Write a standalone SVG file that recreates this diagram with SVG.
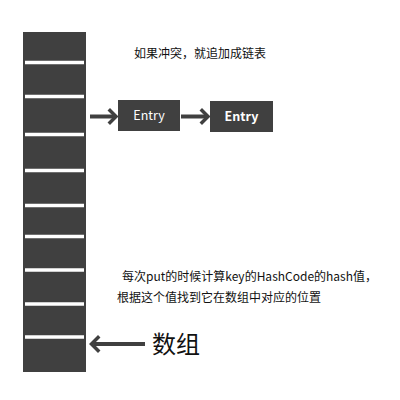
<svg xmlns="http://www.w3.org/2000/svg" width="400" height="400" viewBox="0 0 400 400">
<defs>
<style>
.box{fill:#404040}
.sep{stroke:#ffffff;stroke-width:3.5}
.t{font-family:"Noto Sans CJK SC","Noto Sans",sans-serif;fill:#111}
.et{font-family:"Noto Sans CJK SC","Noto Sans",sans-serif;fill:#fff;font-size:12.5px;text-anchor:middle}
.ln{stroke:#404040;stroke-width:4;fill:none}
.hd{stroke:#404040;stroke-width:3.5;fill:none;stroke-linecap:square}
</style>
</defs>
<rect width="400" height="400" fill="#fff"/>
<g id="array">
<rect class="box" x="23" y="32" width="63" height="340"/>
<line class="sep" x1="25" y1="62.5" x2="84" y2="62.5"/>
<line class="sep" x1="25" y1="96.5" x2="84" y2="96.5"/>
<line class="sep" x1="25" y1="134.5" x2="84" y2="134.5"/>
<line class="sep" x1="25" y1="170.5" x2="84" y2="170.5"/>
<line class="sep" x1="25" y1="205.5" x2="84" y2="205.5"/>
<line class="sep" x1="25" y1="236.5" x2="84" y2="236.5"/>
<line class="sep" x1="25" y1="270" x2="84" y2="270"/>
<line class="sep" x1="25" y1="304" x2="84" y2="304"/>
<line class="sep" x1="25" y1="337" x2="84" y2="337"/>
</g>
<g id="entry1">
<rect class="box" x="118" y="100" width="62" height="31"/>
<text class="et" x="149" y="120">Entry</text>
</g>
<g id="entry2">
<rect class="box" x="210" y="101" width="63" height="31"/>
<text class="et" x="241.5" y="121" font-weight="bold">Entry</text>
</g>
<g id="connectors">
<line class="ln" x1="90" y1="116.5" x2="114" y2="116.5"/>
<polyline class="hd" points="110,110.5 116,116.5 110,122.5"/>
<line class="ln" x1="181" y1="116.5" x2="206" y2="116.5"/>
<polyline class="hd" points="202,110.5 208,116.5 202,122.5"/>
<line class="ln" x1="94" y1="344" x2="145" y2="344"/>
<polyline class="hd" points="98,337.5 91.5,344 98,350.5"/>
</g>
<text class="t" x="134" y="58" font-size="12">如果冲突，就追加成链表</text>
<text class="t" x="122" y="281" font-size="12" textLength="255" lengthAdjust="spacing">每次put的时候计算key的HashCode的hash值，</text>
<text class="t" x="117" y="302" font-size="12">根据这个值找到它在数组中对应的位置</text>
<text class="t" x="152" y="353" font-size="24">数组</text>
</svg>
